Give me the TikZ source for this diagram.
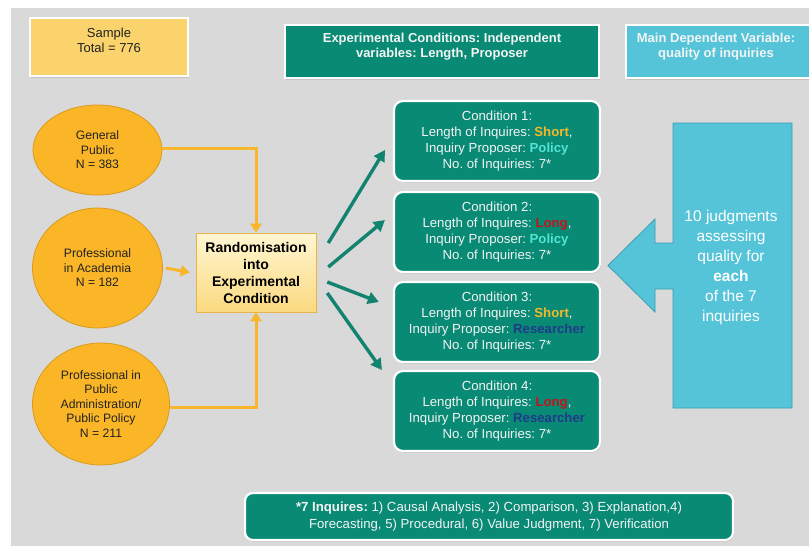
\documentclass[tikz,border=0pt]{standalone}
\usepackage{fontspec}
\setmainfont{Liberation Sans}
\frenchspacing
\usetikzlibrary{shapes.geometric,shadows,arrows.meta,calc}
\definecolor{bggray}{HTML}{D9D9D9}
\definecolor{samplefill}{HTML}{FAD36C}
\definecolor{myteal}{HTML}{088A75}
\definecolor{cyanfill}{HTML}{55C4D8}
\definecolor{cyanedge}{HTML}{3A9DB2}
\definecolor{eorange}{HTML}{FBB627}
\definecolor{eorangedk}{HTML}{D99A1E}
\definecolor{oline}{HTML}{F8B62A}
\definecolor{tline}{HTML}{11836F}
\definecolor{cshort}{HTML}{F5B82A}
\definecolor{cpolicy}{HTML}{52E5D3}
\definecolor{clong}{HTML}{C0151B}
\definecolor{cresearcher}{HTML}{1F3B8A}
\definecolor{randtop}{HTML}{FFF6D2}
\definecolor{randbot}{HTML}{FBDA80}
\definecolor{randdraw}{HTML}{E6B44A}
\definecolor{darktext}{HTML}{222222}
\definecolor{lighttext}{HTML}{F4F4F4}
\tikzset{
  topbox/.style={draw=white, line width=1.5pt, inner sep=0pt,
    drop shadow={opacity=0.25, shadow xshift=1pt, shadow yshift=-1.5pt}},
  toptext/.style={anchor=north, inner sep=0pt, align=center},
  popell/.style={ellipse, fill=eorange, draw=eorangedk, line width=0.8pt, inner sep=0pt,
    align=center, text=darktext, font=\fontsize{12.2}{14.5}\selectfont},
  condbox/.style={rounded corners=9pt, fill=myteal, draw=white, line width=2.2pt,
    minimum width=206, minimum height=80, inner sep=0pt, align=center, text=lighttext,
    font=\fontsize{13.2}{16}\selectfont,
    drop shadow={opacity=0.3, shadow xshift=1pt, shadow yshift=-1.5pt}},
  oarrow/.style={draw=oline, line width=3pt, -{Triangle[length=9pt,width=11pt]}},
  tarrow/.style={draw=tline, line width=3.4pt, -{Triangle[length=11pt,width=12pt]}},
}
\begin{document}
\begin{tikzpicture}[x=1pt,y=-1pt]
\useasboundingbox (0,0) rectangle (809,546);
\fill[white] (0,0) rectangle (809,546);
\fill[bggray] (11,8) rectangle (809,546);

% top boxes
\node[topbox, fill=samplefill, minimum width=158, minimum height=58] (sample) at (109,47) {};
\node[toptext, text=darktext, font=\fontsize{13}{15}\selectfont] (sampletxt)
  at ([yshift=-11pt]sample.north) {Sample\\Total = 776};

\node[topbox, fill=myteal, minimum width=314, minimum height=53] (exp) at (442,51.5) {};
\node[toptext, text=lighttext, font=\bfseries\fontsize{13}{15}\selectfont] (exptxt)
  at ([yshift=-8.5pt]exp.north) {Experimental Conditions: Independent\\variables: Length, Proposer};

\node[topbox, fill=cyanfill, minimum width=188, minimum height=53] (dep) at (720,51.5) {};
\node[toptext, text=lighttext, font=\bfseries\fontsize{13}{15}\selectfont] (deptxt)
  at ([xshift=-4pt,yshift=-8.5pt]dep.north) {Main Dependent Variable:\\quality of inquiries};

% population ellipses
\node[popell, minimum width=129, minimum height=90] (gp) at (97.5,150) {General\\Public\\N = 383};
\node[popell, minimum width=130, minimum height=120] (ac) at (97.5,268) {Professional\\in Academia\\N = 182};
\node[popell, minimum width=137, minimum height=122] (pa) at (101,404) {Professional in\\Public\\Administration/\\Public Policy\\N = 211};

% randomisation
\node[draw=randdraw, line width=0.6pt, top color=randtop, bottom color=randbot,
  minimum width=120, minimum height=79, inner sep=0pt, align=center,
  font=\bfseries\fontsize{14}{17}\selectfont,
  drop shadow={opacity=0.2, shadow xshift=1pt, shadow yshift=-1pt}] (rand) at (256,272.5)
  {Randomisation\\into\\Experimental\\Condition};

\draw[oarrow] ([yshift=2pt]gp.east) -| (rand.north);
\draw[oarrow] ([xshift=3pt]ac.east) -- ([xshift=-6pt]rand.west);
\draw[oarrow] ([yshift=-3pt]pa.east) -| (rand.south);

% condition boxes
\node[condbox] (c1) at (497,141) {Condition 1:\\Length of Inquires: {\bfseries\color{cshort}Short},\\Inquiry Proposer: {\bfseries\color{cpolicy}Policy}\\No. of Inquiries: 7*};
\node[condbox] (c2) at (497,232) {Condition 2:\\Length of Inquires: {\bfseries\color{clong}Long},\\Inquiry Proposer: {\bfseries\color{cpolicy}Policy}\\No. of Inquiries: 7*};
\node[condbox] (c3) at (497,322) {Condition 3:\\Length of Inquires: {\bfseries\color{cshort}Short},\\Inquiry Proposer: {\bfseries\color{cresearcher}Researcher}\\No. of Inquiries: 7*};
\node[condbox] (c4) at (497,411) {Condition 4:\\Length of Inquires: {\bfseries\color{clong}Long},\\Inquiry Proposer: {\bfseries\color{cresearcher}Researcher}\\No. of Inquiries: 7*};

% teal arrows
\coordinate (s1) at ($(rand.east)+(12,-29.5)$);
\coordinate (s2) at ($(rand.east)+(12,-5.5)$);
\coordinate (s3) at ($(rand.east)+(11,9.5)$);
\coordinate (s4) at ($(rand.east)+(11,20.5)$);
\coordinate (e1) at ($(c1.west)+(-8,9)$);
\coordinate (e2) at ($(c2.west)+(-8,-12)$);
\coordinate (e3) at ($(c3.west)+(-14,-20)$);
\coordinate (e4) at ($(c4.west)+(-11,-41)$);
\draw[tarrow] (s1) -- (e1);
\draw[tarrow] (s2) -- (e2);
\draw[tarrow] (s3) -- (e3);
\draw[tarrow] (s4) -- (e4);

% callout arrow
\draw[fill=cyanfill, draw=cyanedge, line width=0.8pt]
  (673,123) -- (792,123) -- (792,408) -- (673,408) -- (673,289) -- (655,289)
  -- (655,312) -- (608,265.5) -- (655,219) -- (655,243) -- (673,243) -- cycle;
\node[align=center, text=white, inner sep=0pt, font=\fontsize{15.5}{20}\selectfont] (calltxt) at (731,267)
  {10 judgments\\assessing\\quality for\\\textbf{each}\\of the 7\\inquiries};

% footnote box
\node[rounded corners=8pt, fill=myteal, draw=white, line width=2.2pt, minimum width=488, minimum height=47,
  inner sep=0pt, align=center, text=lighttext, font=\fontsize{13.2}{17}\selectfont,
  drop shadow={opacity=0.3, shadow xshift=1pt, shadow yshift=-1.5pt}] (foot) at (489,516.5)
  {\textbf{*7 Inquires:} 1) Causal Analysis, 2) Comparison, 3) Explanation,4)\\Forecasting, 5) Procedural, 6) Value Judgment, 7) Verification};
\end{tikzpicture}
\end{document}
